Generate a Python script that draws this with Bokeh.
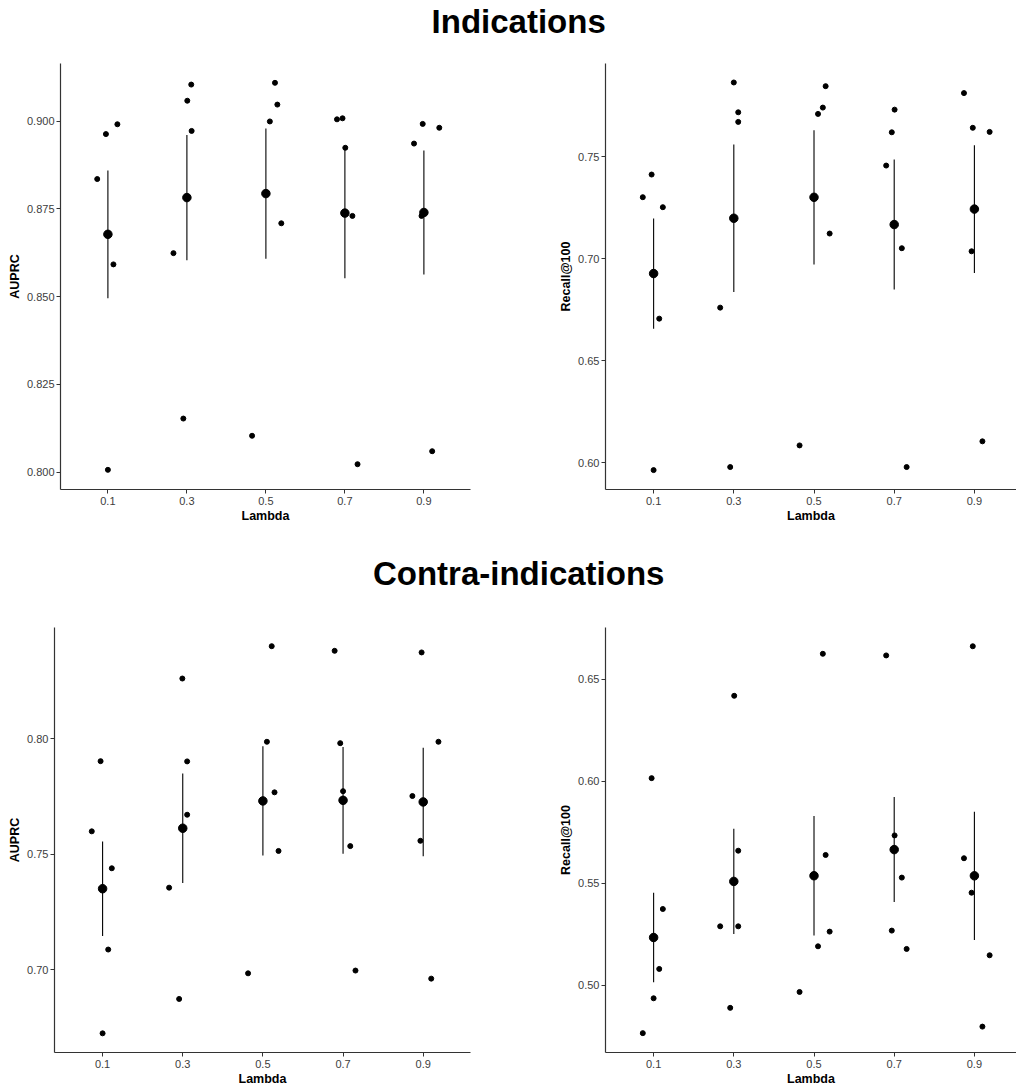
import numpy as np
from bokeh.plotting import figure
from bokeh.layouts import column, row
from bokeh.models import FixedTicker, NumeralTickFormatter, Range1d
from bokeh.core.properties import value
from bokeh.embed import file_html
from bokeh.resources import INLINE

# ---------------- data ----------------
lambdas = [0.1, 0.3, 0.5, 0.7, 0.9]
x_ticks = [0.1, 0.3, 0.5, 0.7, 0.9]
n_rep = 5

titles = ["Indications", "Contra-indications"]
x_label = "Lambda"
y_labels = ["AUPRC", "Recall@100", "AUPRC", "Recall@100"]

# jittered x positions, 5 replicates per lambda
ind_auprc_x = [0.073, 0.095, 0.124, 0.114, 0.100,
               0.311, 0.301, 0.312, 0.266, 0.291,
               0.523, 0.529, 0.510, 0.539, 0.465,
               0.680, 0.694, 0.701, 0.719, 0.732,
               0.875, 0.897, 0.939, 0.894, 0.921]
ind_auprc_y = [0.8835, 0.8963, 0.8991, 0.8592, 0.8007,
               0.9104, 0.9058, 0.8972, 0.8624, 0.8153,
               0.9109, 0.9047, 0.8999, 0.8709, 0.8104,
               0.9005, 0.9008, 0.8924, 0.8730, 0.8023,
               0.8936, 0.8992, 0.8981, 0.8730, 0.8060]

ind_recall_x = [0.073, 0.095, 0.123, 0.114, 0.100,
                0.300, 0.311, 0.311, 0.266, 0.291,
                0.529, 0.522, 0.510, 0.539, 0.464,
                0.701, 0.694, 0.680, 0.719, 0.731,
                0.874, 0.896, 0.938, 0.893, 0.920]
ind_recall_y = [0.7301, 0.7412, 0.7252, 0.6706, 0.5964,
                0.7863, 0.7717, 0.7670, 0.6760, 0.5979,
                0.7845, 0.7740, 0.7709, 0.7123, 0.6085,
                0.7730, 0.7619, 0.7456, 0.7051, 0.5979,
                0.7811, 0.7641, 0.7621, 0.7036, 0.6105]

con_auprc_x = [0.073, 0.095, 0.123, 0.114, 0.100,
               0.299, 0.311, 0.311, 0.266, 0.291,
               0.522, 0.510, 0.529, 0.539, 0.463,
               0.679, 0.693, 0.700, 0.718, 0.731,
               0.896, 0.938, 0.873, 0.893, 0.920]
con_auprc_y = [0.7599, 0.7903, 0.7439, 0.7087, 0.6724,
               0.8261, 0.7902, 0.7671, 0.7355, 0.6873,
               0.8401, 0.7987, 0.7768, 0.7514, 0.6984,
               0.8381, 0.7981, 0.7773, 0.7535, 0.6996,
               0.8374, 0.7987, 0.7752, 0.7558, 0.6961]

con_recall_x = [0.095, 0.123, 0.114, 0.100, 0.073,
                0.301, 0.311, 0.266, 0.311, 0.291,
                0.522, 0.529, 0.539, 0.510, 0.464,
                0.680, 0.701, 0.719, 0.694, 0.731,
                0.896, 0.874, 0.893, 0.938, 0.920]
con_recall_y = [0.6016, 0.5374, 0.5080, 0.4936, 0.4765,
                0.6420, 0.5660, 0.5289, 0.5289, 0.4889,
                0.6626, 0.5639, 0.5263, 0.5191, 0.4967,
                0.6618, 0.5735, 0.5528, 0.5268, 0.5178,
                0.6663, 0.5623, 0.5454, 0.5147, 0.4797]

ind_auprc_yticks = [0.800, 0.825, 0.850, 0.875, 0.900]
ind_recall_yticks = [0.60, 0.65, 0.70, 0.75]
con_auprc_yticks = [0.70, 0.75, 0.80]
con_recall_yticks = [0.50, 0.55, 0.60, 0.65]

# ---------------- styling helpers ----------------
FONT = "Liberation Sans"
AXIS_COL = "#333333"
TICK_TXT = "#3d3d3d"


def summary(ys):
    arr = np.array(ys).reshape(len(lambdas), n_rep)
    m = arr.mean(axis=1)
    se = arr.std(axis=1, ddof=1) / np.sqrt(n_rep)
    return m, m - se, m + se


def panel(xs, ys, ylab, yticks, yfmt, yr, xr, w, h, left, right, top, bottom):
    p = figure(width=w, height=h, x_range=Range1d(*xr), y_range=Range1d(*yr),
               toolbar_location=None, output_backend="svg",
               min_border_left=left, min_border_right=right,
               min_border_top=top, min_border_bottom=bottom)
    p.grid.visible = False
    p.outline_line_color = None
    p.background_fill_color = "white"
    p.border_fill_color = "white"

    p.scatter(xs, ys, size=5, color="black")
    m, lo, hi = summary(ys)
    p.segment(x0=lambdas, y0=lo, x1=lambdas, y1=hi, line_color="black", line_width=1.1)
    p.scatter(lambdas, m, size=8.5, color="black")

    p.xaxis.ticker = FixedTicker(ticks=x_ticks)
    p.xaxis.formatter = NumeralTickFormatter(format="0.0")
    p.yaxis.ticker = FixedTicker(ticks=yticks)
    p.yaxis.formatter = NumeralTickFormatter(format=yfmt)

    for ax in (p.xaxis[0], p.yaxis[0]):
        ax.minor_tick_line_color = None
        ax.major_tick_in = 0
        ax.major_tick_out = 4
        ax.axis_line_color = AXIS_COL
        ax.axis_line_width = 1.2
        ax.major_tick_line_color = AXIS_COL
        ax.major_label_text_font = FONT
        ax.major_label_text_font_size = "11px"
        ax.major_label_text_color = TICK_TXT
        ax.axis_label_text_font = FONT
        ax.axis_label_text_font_style = "bold"
        ax.axis_label_text_font_size = "12.5px"
        ax.axis_label_text_color = "black"
    p.xaxis.major_label_standoff = 3
    p.yaxis.major_label_standoff = 2
    p.xaxis.axis_label = x_label
    p.xaxis.axis_label_standoff = 1
    p.yaxis.axis_label = ylab
    p.yaxis.axis_label_standoff = 2
    return p


def title_fig(text, h, ymid):
    t = figure(width=1016, height=h, x_range=Range1d(0, 1), y_range=Range1d(0, 1),
               toolbar_location=None, output_backend="svg", min_border=0)
    t.axis.visible = False
    t.grid.visible = False
    t.outline_line_color = None
    t.text(x=[0.51], y=[ymid], text=[text], text_font=value(FONT),
           text_font_style="bold", text_font_size="33px",
           text_align="center", text_baseline="middle", text_color="black")
    return t


W1, W2 = 545, 471
H1, H2 = 494, 483

t1 = title_fig(titles[0], 46, 0.54)
p1 = panel(ind_auprc_x, ind_auprc_y, y_labels[0], ind_auprc_yticks, "0.000",
           (0.7951, 0.9164), (-0.02, 1.018), W1, H1, 60, 75, 17, 51)
p2 = panel(ind_recall_x, ind_recall_y, y_labels[1], ind_recall_yticks, "0.00",
           (0.5869, 0.7956), (-0.02, 1.005), W2, H1, 60, 0, 17, 51)
t2 = title_fig(titles[1], 65, 0.50)
p3 = panel(con_auprc_x, con_auprc_y, y_labels[2], con_auprc_yticks, "0.00",
           (0.6641, 0.8482), (-0.02, 1.018), W1, H2, 54, 75, 22, 35)
p4 = panel(con_recall_x, con_recall_y, y_labels[3], con_recall_yticks, "0.00",
           (0.467, 0.6755), (-0.02, 1.005), W2, H2, 60, 0, 22, 35)

layout = column(t1, row(p1, p2), t2, row(p3, p4))

open("out.html", "w").write(file_html(layout, INLINE))
